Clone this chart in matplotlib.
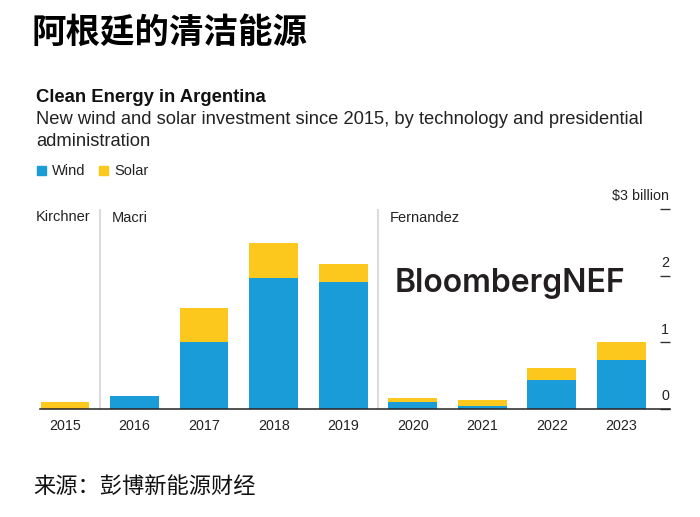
import matplotlib
matplotlib.use("Agg")
import matplotlib.pyplot as plt
import matplotlib.transforms as mtransforms

# data (US$ billion)
years = ["2015", "2016", "2017", "2018", "2019", "2020", "2021", "2022", "2023"]
wind = [0.0, 0.20, 1.01, 1.97, 1.90, 0.10, 0.05, 0.44, 0.74]
solar = [0.10, 0.0, 0.51, 0.52, 0.28, 0.06, 0.08, 0.17, 0.27]
y_ticks = [0, 1, 2, 3]
y_tick_labels = ["0", "1", "2", "$3 billion"]
presidents = ["Kirchner", "Macri", "Fernandez"]
president_start = [0, 1, 5]  # index of first year of each administration

blue = "#1a9cd8"
yellow = "#fcc81d"
sep_grey = "#dcdcdc"
latin = "Liberation Sans"

W, H = 700, 517
fig = plt.figure(figsize=(W / 100, H / 100), dpi=100)


def fx(px):
    return px / W


def fy(py):
    return 1 - py / H


# headers
fig.text(fx(32), fy(32), "阿根廷的清洁能源", family=["Noto Sans CJK SC", "DejaVu Sans"],
         fontsize=24.8, fontweight="bold", va="center", ha="left")
fig.text(fx(36), fy(97), "Clean Energy in Argentina", family=latin,
         fontsize=13.3, fontweight="bold", va="center", ha="left", color="#111111")
fig.text(fx(36), fy(119), "New wind and solar investment since 2015, by technology and presidential",
         family=latin, fontsize=13.2, va="center", ha="left", color="#222222")
fig.text(fx(36), fy(141), "administration", family=latin, fontsize=13.2,
         va="center", ha="left", color="#222222")

# legend
fig.patches.append(plt.Rectangle((fx(37), fy(175)), 9 / W, 9 / H, color=blue,
                                 transform=fig.transFigure, figure=fig))
fig.text(fx(52), fy(171), "Wind", family=latin, fontsize=10.5, va="center", ha="left", color="#222222")
fig.patches.append(plt.Rectangle((fx(99), fy(175)), 9 / W, 9 / H, color=yellow,
                                 transform=fig.transFigure, figure=fig))
fig.text(fx(114), fy(171), "Solar", family=latin, fontsize=10.5, va="center", ha="left", color="#222222")

# axes
ax = fig.add_axes([fx(40), fy(409), 630 / W, 200 / H])
x = list(range(len(years)))
ax.bar(x, wind, width=0.7, color=blue, zorder=2)
ax.bar(x, solar, width=0.7, bottom=wind, color=yellow, zorder=2)

ax.set_xlim(-0.36, 8.70)
ax.set_ylim(0, 3)

for s in ["top", "left", "right"]:
    ax.spines[s].set_visible(False)
ax.spines["bottom"].set_color("#222222")
ax.spines["bottom"].set_linewidth(1.1)

ax.set_xticks(x)
ax.set_xticklabels(years, family=latin, fontsize=10.3, color="#222222")
ax.tick_params(axis="x", length=0, pad=7)

ax.set_yticks(y_ticks)
ax.yaxis.tick_right()
ax.tick_params(axis="y", direction="in", length=7, width=1, color="#333333",
               labelright=False, labelleft=False)
trans = mtransforms.blended_transform_factory(ax.transAxes, ax.transData)
for v, lab in zip(y_ticks, y_tick_labels):
    ax.annotate(lab, (0.999, v), xycoords=trans, xytext=(0, 4), textcoords="offset points",
                ha="right", va="bottom", family=latin, fontsize=10.3, color="#222222")

# administration separators and names
for i, name in zip(president_start, presidents):
    if i > 0:
        ax.axvline(i - 0.5, ymin=0, ymax=1, color=sep_grey, lw=1.5, zorder=1)
        ax.text(i - 0.5 + 0.17, 2.86, name, family=latin, fontsize=10.5,
                va="center", ha="left", color="#222222")
    else:
        ax.text(-0.42, 2.88, name, family=latin, fontsize=10.5,
                va="center", ha="left", color="#222222")

# watermark
ax.text(4.74, 1.88, "BloombergNEF", family="Inter", fontsize=23, fontweight="semibold",
        color="#231f20", va="center", ha="left", zorder=3)

# source
fig.text(fx(33), fy(486), "来源：彭博新能源财经", family=["Noto Sans CJK SC", "DejaVu Sans"],
         fontsize=16, va="center", ha="left", color="#111111")

fig.savefig("out.png", dpi=100)
